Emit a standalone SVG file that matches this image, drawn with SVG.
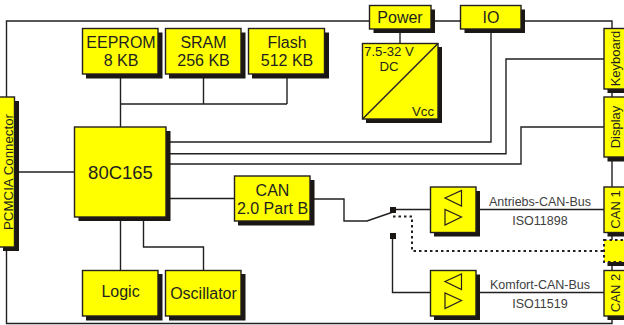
<svg xmlns="http://www.w3.org/2000/svg" width="624" height="325" viewBox="0 0 624 325">
<style>
.w{fill:none;stroke:#231f20;stroke-width:1.4}
.b{fill:#ffff00;stroke:#231f20;stroke-width:1.4}
.s{fill:#1a1714;stroke:none}
.t{font-family:"Liberation Sans",Arial,sans-serif;font-size:16px;fill:#231f20;text-anchor:middle}
.v{font-size:13px}
.g{font-size:12.5px;fill:#404040}
.tri{fill:none;stroke:#231f20;stroke-width:1.2}
</style>
<rect width="624" height="325" fill="#fff"/>
<g id="connectors">
<path class="w" d="M369 21H6.5V97M6.500 250V323.500H612V316"/>
<path class="w" d="M431 21H460M521 21H612V29M612 89V97M612 157V187M612 232V240M612 262V270"/>
<path class="w" d="M400 29V43"/>
<path class="w" d="M120.500 74V127M203.500 74V104M287 74V104M120.500 104H287"/>
<path class="w" d="M120.500 217V270M143.500 217V247H203.500V270"/>
<path class="w" d="M19 172H74"/>
<path class="w" d="M166 142H491V29M166 153.700H506V59H604M166 164H521V127H604"/>
<path class="w" d="M166 198.500H234M310 199H344V221H367L393 212"/>
<path class="w" d="M393 209.500H431M392.500 236V292.500H431"/>
<path class="w" d="M476 209.500H604M476 292.500H604"/>
<path fill="none" stroke="#231f20" stroke-width="2" stroke-dasharray="2.500 3" d="M393 216.500H412V251H604"/>
<rect class="s" x="390" y="207" width="6" height="6"/>
<rect class="s" x="390" y="233" width="6" height="6"/>
</g>
<g id="power"><rect class="s" x="373.500" y="9.500" width="61.500" height="23.500"/><rect class="b" x="369.500" y="5.500" width="61.500" height="23.500"/><text class="t" x="400" y="23">Power</text></g>
<g id="io"><rect class="s" x="464.500" y="9.500" width="60.500" height="23.500"/><rect class="b" x="460.500" y="5.500" width="60.500" height="23.500"/><text class="t" x="491" y="23">IO</text></g>
<g id="dcdc"><rect class="s" x="366" y="47" width="76" height="76"/><rect class="b" x="362.500" y="43.500" width="75.500" height="75.500"/><path class="w" d="M362.500 119L438 43.500"/>
<text class="t" x="389" y="56" style="font-size:13.200px">7.5-32 V</text><text class="t" x="389" y="71" style="font-size:13.200px">DC</text><text class="t" x="423" y="116" style="font-size:13.200px">Vcc</text></g>
<g id="eeprom"><rect class="s" x="86" y="32.500" width="76.500" height="46"/><rect class="b" x="82.500" y="28.500" width="75.500" height="45.500"/><text class="t" x="121" y="48">EEPROM</text><text class="t" x="121" y="66">8 KB</text></g>
<g id="sram"><rect class="s" x="169" y="32.500" width="76.500" height="46"/><rect class="b" x="165.500" y="28.500" width="75.500" height="45.500"/><text class="t" x="203.500" y="48">SRAM</text><text class="t" x="203.500" y="66">256 KB</text></g>
<g id="flash"><rect class="s" x="252" y="32.500" width="77" height="46"/><rect class="b" x="248.500" y="28.500" width="76" height="45.500"/><text class="t" x="287" y="48">Flash</text><text class="t" x="287" y="66">512 KB</text></g>
<g id="cpu"><rect class="s" x="78.500" y="131" width="92" height="90"/><rect class="b" x="74.500" y="127" width="91.500" height="90"/><text class="t" x="120.500" y="179" style="font-size:18.500px">80C165</text></g>
<g id="can"><rect class="s" x="238" y="180" width="76.500" height="45.500"/><rect class="b" x="234.500" y="176" width="75.500" height="45"/><text class="t" x="272.500" y="196">CAN</text><text class="t" x="272.500" y="214">2.0 Part B</text></g>
<g id="logic"><rect class="s" x="86" y="274" width="76.500" height="46.500"/><rect class="b" x="82.500" y="270.500" width="75.500" height="45.500"/><text class="t" x="120.500" y="297">Logic</text></g>
<g id="oscillator"><rect class="s" x="169" y="274" width="76.500" height="46.500"/><rect class="b" x="165.500" y="270.500" width="75.500" height="45.500"/><text class="t" x="203.500" y="299">Oscillator</text></g>
<g id="pcmcia"><rect class="s" x="3" y="101" width="16" height="150"/><rect class="b" x="-2" y="97" width="16.500" height="150"/><text class="t" transform="translate(12.500 172) rotate(-90)" style="font-size:13.300px">PCMCIA Connector</text></g>
<g id="keyboard"><rect class="s" x="607.500" y="33" width="19" height="60"/><rect class="b" x="604" y="28.500" width="22.500" height="60.500"/><text class="t v" transform="translate(620 58.500) rotate(-90)">Keyboard</text></g>
<g id="display"><rect class="s" x="607.500" y="101" width="19" height="60.500"/><rect class="b" x="604" y="97" width="22.500" height="60"/><text class="t v" transform="translate(620 127) rotate(-90)">Display</text></g>
<g id="can1"><rect class="s" x="607.500" y="191" width="19" height="45.500"/><rect class="b" x="604" y="187" width="22.500" height="45.500"/><text class="t v" transform="translate(620 209.500) rotate(-90)">CAN 1</text></g>
<g id="spare"><rect class="s" x="607.500" y="244" width="19" height="22"/><rect fill="#ffff00" stroke="#231f20" stroke-width="2" stroke-dasharray="2.500 3" x="604" y="240" width="22.500" height="22"/></g>
<g id="can2"><rect class="s" x="607.500" y="274.500" width="19" height="45.500"/><rect class="b" x="604" y="270.500" width="22.500" height="45.500"/><text class="t v" transform="translate(620 293) rotate(-90)">CAN 2</text></g>
<g id="transceiver1"><rect class="s" x="434" y="191" width="46" height="45.500"/><rect class="b" x="430.500" y="187" width="45.500" height="45.500"/><path class="tri" d="M445 198L461.500 190.500V206ZM445 209.500V225L461.500 217Z"/></g>
<g id="transceiver2"><rect class="s" x="434" y="274.500" width="46" height="45.500"/><rect class="b" x="430.500" y="270.500" width="45.500" height="45.500"/><path class="tri" d="M445 281.500L461.500 274V289.500ZM445 293V308.500L461.500 300.500Z"/></g>
<g id="labels">
<text class="t g" x="540" y="206">Antriebs-CAN-Bus</text><text class="t g" x="540" y="225">ISO11898</text>
<text class="t g" x="540" y="289">Komfort-CAN-Bus</text><text class="t g" x="540" y="308">ISO11519</text>
</g>
</svg>
